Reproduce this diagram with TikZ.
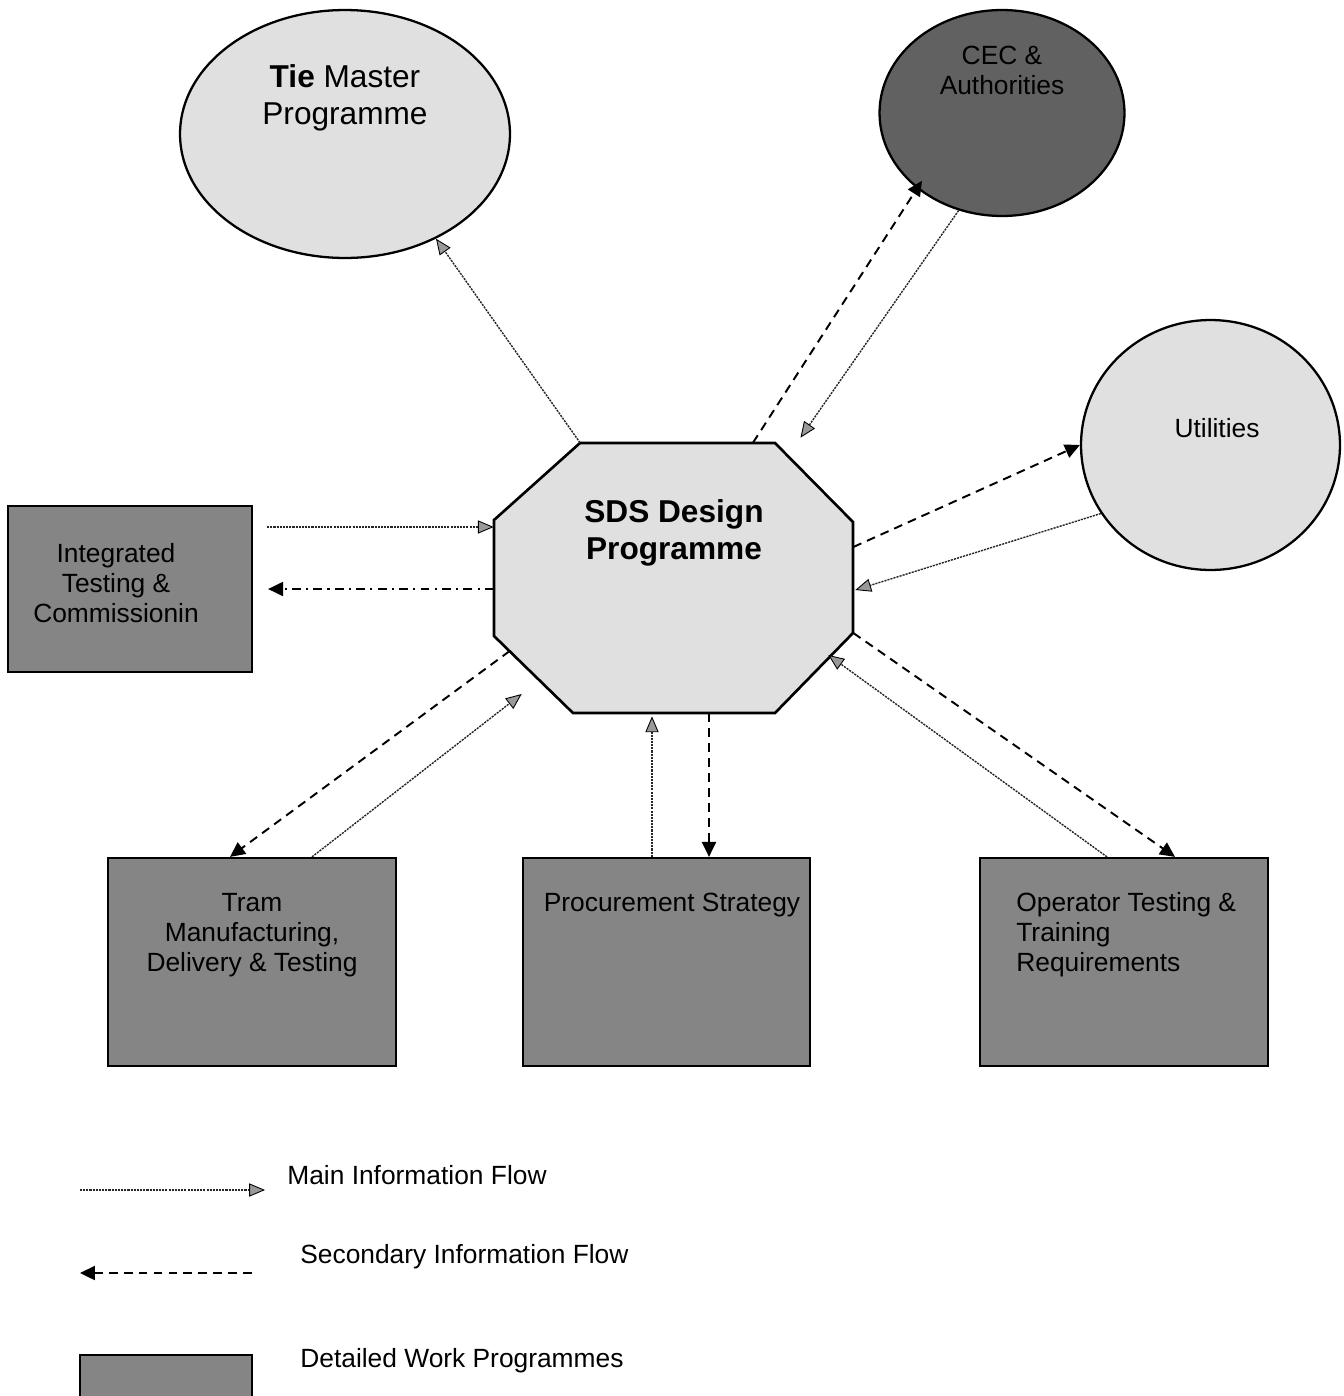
\documentclass[tikz,border=0pt]{standalone}
\usepackage{fontspec}
\setmainfont{Liberation Sans}
\usetikzlibrary{arrows.meta,calc,shapes.geometric}
\begin{document}
\begin{tikzpicture}[x=0.02cm,y=-0.02cm,
  lightfill/.style={draw=black, line width=1.3pt, fill=black!12},
  darkell/.style={draw=black, line width=1.3pt, fill=black!62},
  workbox/.style={draw=black, line width=1.3pt, fill=black!48, inner sep=0pt},
  txt/.style={font=\fontsize{15}{17}\selectfont, align=center, inner sep=0pt},
  bigtxt/.style={font=\fontsize{18}{21}\selectfont, align=center, inner sep=0pt},
  mainflow/.style={draw=black!85, line width=0.8pt, dash pattern=on 1.2pt off 0.6pt,
    -{Triangle[length=9pt,width=7.5pt,fill=black!40,color=black,line width=0.5pt]}},
  secflow/.style={draw=black, line width=1.1pt, dash pattern=on 5pt off 3.5pt,
    -{Triangle[length=8.5pt,width=8pt,fill=black]}},
  dotdashflow/.style={draw=black, line width=1pt, dash pattern=on 5pt off 3pt on 1.2pt off 3pt,
    -{Triangle[length=8.5pt,width=8pt,fill=black]}}
]
\useasboundingbox (0,0) rectangle (1343,1396);

% ellipses
\node[lightfill, ellipse, minimum width=6.6cm, minimum height=4.96cm, inner sep=0pt] (tie) at (345,134) {};
\node[bigtxt] (tietxt) at (345,98) {\textbf{Tie} Master\\Programme};
\node[darkell, ellipse, minimum width=4.9cm, minimum height=4.12cm, inner sep=0pt] (cec) at (1002,113) {};
\node[txt] (cectxt) at (1002,70) {CEC \&\\Authorities};
\node[lightfill, ellipse, minimum width=5.18cm, minimum height=5cm, inner sep=0pt] (util) at (1210.5,445) {};
\node[txt] (utiltxt) at (1217,428) {Utilities};

% octagon
\draw[lightfill, line width=1.5pt] (580,443) -- (775,443) -- (853,522) -- (853,633) -- (775,713)
  -- (573,713) -- (494,636) -- (494,520) -- cycle;
\node[minimum width=7.18cm, minimum height=5.4cm, inner sep=0pt] (oct) at (673.5,578) {};
\node[bigtxt, font=\fontsize{18}{21}\selectfont\bfseries] (sds) at (674,533) {SDS Design\\Programme};

% work boxes
\node[workbox, minimum width=4.88cm, minimum height=3.32cm] (intg) at (130,589) {};
\node[txt] (intgtxt) at (116,583) {Integrated\\Testing \&\\Commissionin};
\node[workbox, minimum width=5.76cm, minimum height=4.16cm] (tram) at (252,962) {};
\node[txt] (tramtxt) at (252,935) {Tram\\Manufacturing,\\Delivery \& Testing};
\node[workbox, minimum width=5.74cm, minimum height=4.16cm] (proc) at (666.5,962) {};
\node[txt] (proctxt) at (672,905) {Procurement Strategy};
\node[workbox, minimum width=5.76cm, minimum height=4.16cm] (oper) at (1124,962) {};
\node[txt, align=left, anchor=west] (opertxt) at (1016,935) {Operator Testing \&\\Training\\Requirements};

% connectors
\draw[mainflow] ([shift={(-93.5,0)}]oct.north) -- (tie.-49);
\draw[secflow] ([shift={(79.5,0)}]oct.north) -- ([shift={(6,-7)}]cec.-139);
\draw[mainflow] (cec.-114) -- ([shift={(127,-5)}]oct.north);
\draw[secflow] ([shift={(0,-31)}]oct.east) -- (util.180);
\draw[mainflow] (util.212) -- ([shift={(2,12)}]oct.east);
\draw[mainflow] ([shift={(14,-62)}]intg.east) -- ([shift={(0,-51)}]oct.west);
\draw[dotdashflow] ([shift={(0,11)}]oct.west) -- ([shift={(15,0)}]intg.east);
\draw[secflow] ([shift={(16,73)}]oct.west) -- ([shift={(-22,0)}]tram.north);
\draw[mainflow] ([shift={(60,0)}]tram.north) -- ([shift={(28,116)}]oct.west);
\draw[mainflow] ([shift={(-14.5,0)}]proc.north) -- ([shift={(-21.5,3)}]oct.south);
\draw[secflow] ([shift={(35.5,0)}]oct.south) -- ([shift={(42.5,0)}]proc.north);
\draw[secflow] ([shift={(0,55)}]oct.east) -- ([shift={(51,0)}]oper.north);
\draw[mainflow] ([shift={(-17,0)}]oper.north) -- ([shift={(-25,77)}]oct.east);

% legend
\coordinate (lgA) at (80,1190);
\coordinate (lgB) at (265,1190);
\coordinate (lgC) at (252,1273);
\coordinate (lgD) at (80,1273);
\draw[mainflow] (lgA) -- (lgB);
\draw[secflow] (lgC) -- (lgD);
\node[txt, anchor=west] (lgmain) at (287,1175) {Main Information Flow};
\node[txt, anchor=west] (lgsec) at (300,1257) {Secondary Information Flow};
\draw[workbox] (80,1355) rectangle (252,1400);
\node[txt, anchor=west] (lgwork) at (300,1361) {Detailed Work Programmes};
\end{tikzpicture}
\end{document}
